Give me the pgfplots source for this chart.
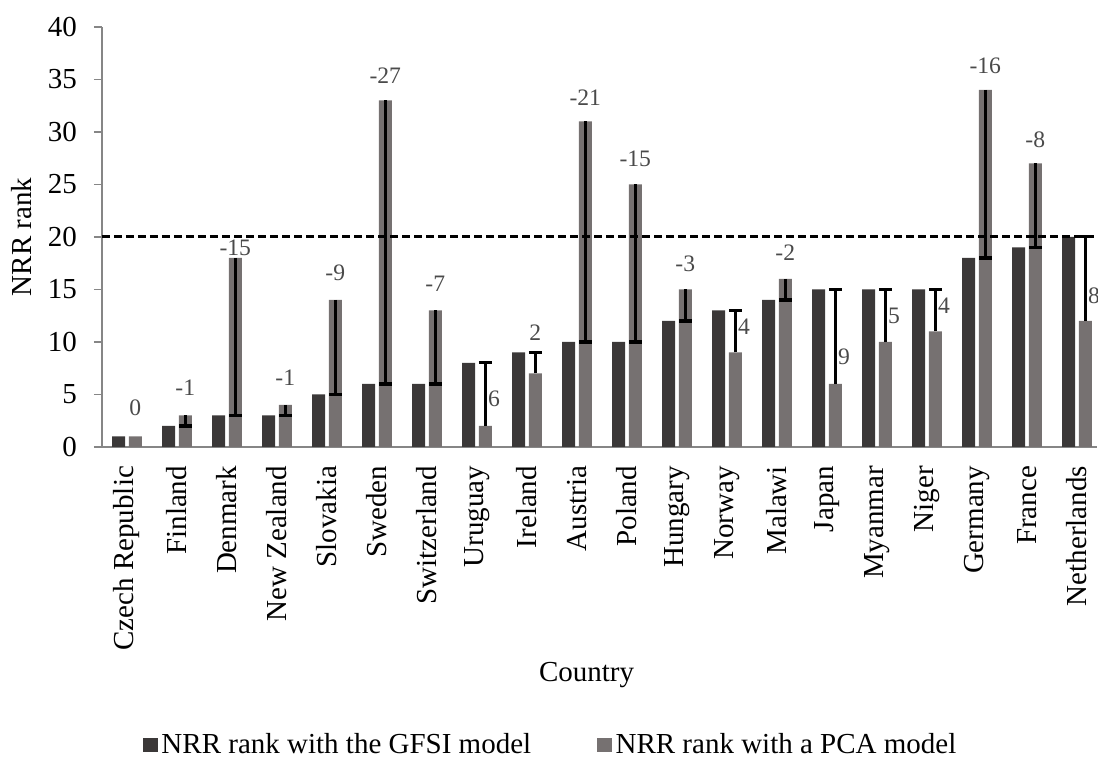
\documentclass[border=0pt]{standalone}
\usepackage{pgfplots}
\pgfplotsset{compat=1.18}
\usepackage{fontspec}
\setmainfont{Liberation Serif}
\definecolor{darkbar}{HTML}{3B3838}
\definecolor{lightbar}{HTML}{767171}
\definecolor{axisgray}{HTML}{868686}
\definecolor{lblgray}{HTML}{4A4A4A}
\newcommand{\tf}{\fontsize{14.5}{16}\selectfont}
\newcommand{\lf}{\fontsize{11.8}{13}\selectfont}
\begin{document}
\begin{tikzpicture}
\begin{axis}[
  scale only axis,
  width=497.5pt, height=210pt,
  xmin=-0.5, xmax=19.4,
  ymin=0, ymax=40,
  ytick={0,5,...,40},
  xtick={0,...,19},
  xticklabels={Czech Republic,Finland,Denmark,New Zealand,Slovakia,Sweden,Switzerland,Uruguay,Ireland,Austria,Poland,Hungary,Norway,Malawi,Japan,Myanmar,Niger,Germany,France,Netherlands},
  x tick label style={rotate=90, anchor=east, font=\tf, xshift=-2pt},
  y tick label style={font=\tf, xshift=-5pt},
  /pgf/number format/assume math mode=true,
  axis x line=bottom, axis y line=left,
  axis line style={-, axisgray, line width=0.9pt},
  x axis line style={-},
  y axis line style={-},
  major x tick style={draw=none},
  major y tick style={axisgray, line width=0.9pt},
  tick align=outside,
  major tick length=4pt,
  clip=false,
  xlabel={Country},
  ylabel={NRR rank},
  every axis x label/.style={at={(axis description cs:0.487,-0.543)}, anchor=center, font=\tf},
  every axis y label/.style={at={(axis description cs:-0.0804,0.5)}, anchor=center, rotate=90, font=\tf},
  legend columns=2,
  legend style={at={(axis description cs:0.452,-0.7095)}, anchor=center, draw=none, font=\tf,
    /tikz/every even column/.append style={column sep=31pt}},
]
\addplot[ybar, bar width=6.5pt, bar shift=-4.15pt, fill=darkbar, draw=none,
  legend image code/.code={\fill[darkbar] (0pt,-3.6pt) rectangle (7.2pt,3.6pt);}]
 coordinates {(0,1) (1,2) (2,3) (3,3) (4,5) (5,6) (6,6) (7,8) (8,9) (9,10) (10,10) (11,12) (12,13) (13,14) (14,15) (15,15) (16,15) (17,18) (18,19) (19,20)};
\addlegendentry{NRR rank with the GFSI model}
\addplot[ybar, bar width=6.5pt, bar shift=4.15pt, fill=lightbar, draw=none,
  legend image code/.code={\fill[lightbar] (0pt,-3.6pt) rectangle (7.2pt,3.6pt);}]
 coordinates {(0,1) (1,3) (2,18) (3,4) (4,14) (5,33) (6,13) (7,2) (8,7) (9,31) (10,25) (11,15) (12,9) (13,16) (14,6) (15,10) (16,11) (17,34) (18,27) (19,12)};
\addlegendentry{NRR rank with a PCA model}
% dashed threshold
\addplot[forget plot, black, line width=1.5pt, dash pattern=on 4pt off 2pt] coordinates {(-0.5,20) (19.4,20)};
% error bars (PCA to GFSI)
\addplot[forget plot, draw=none, mark=none,
  error bars/.cd, y dir=minus, y explicit,
  error bar style={line width=1.7pt, draw=black},
  error mark options={rotate=90, mark size=3.25pt, line width=1.7pt, draw=black}]
 coordinates {(1.166,3) -= (0,1) (2.166,18) -= (0,15) (3.166,4) -= (0,1) (4.166,14) -= (0,9) (5.166,33) -= (0,27) (6.166,13) -= (0,7) (9.166,31) -= (0,21) (10.166,25) -= (0,15) (11.166,15) -= (0,3) (13.166,16) -= (0,2) (17.166,34) -= (0,16) (18.166,27) -= (0,8)};
\addplot[forget plot, draw=none, mark=none,
  error bars/.cd, y dir=plus, y explicit,
  error bar style={line width=1.5pt, draw=black},
  error mark options={rotate=90, mark size=3.25pt, line width=1.5pt, draw=black}]
 coordinates {(7.166,2) += (0,6) (8.166,7) += (0,2) (12.166,9) += (0,4) (14.166,6) += (0,9) (15.166,10) += (0,5) (16.166,11) += (0,4) (19.166,12) += (0,8)};
% data labels
\begin{scope}[every node/.style={font=\lf, text=lblgray, inner sep=0pt}]
\node at (axis cs:0.166,3.7) {0};
\node at (axis cs:1.166,5.6) {-1};
\node at (axis cs:2.166,18.95) {-15};
\node at (axis cs:3.166,6.6) {-1};
\node at (axis cs:4.166,16.6) {-9};
\node at (axis cs:5.166,35.4) {-27};
\node at (axis cs:6.166,15.5) {-7};
\node at (axis cs:7.34,4.6) {6};
\node at (axis cs:8.166,10.85) {2};
\node at (axis cs:9.166,33.3) {-21};
\node at (axis cs:10.166,27.4) {-15};
\node at (axis cs:11.166,17.4) {-3};
\node at (axis cs:12.34,11.5) {4};
\node at (axis cs:13.166,18.5) {-2};
\node at (axis cs:14.34,8.6) {9};
\node at (axis cs:15.34,12.5) {5};
\node at (axis cs:16.34,13.5) {4};
\node at (axis cs:17.166,36.3) {-16};
\node at (axis cs:18.166,29.3) {-8};
\node at (axis cs:19.34,14.4) {8};
\end{scope}
\end{axis}
\pgfresetboundingbox
\useasboundingbox (-51pt,-155.5pt) rectangle (498pt,223.5pt);
\end{tikzpicture}
\end{document}
